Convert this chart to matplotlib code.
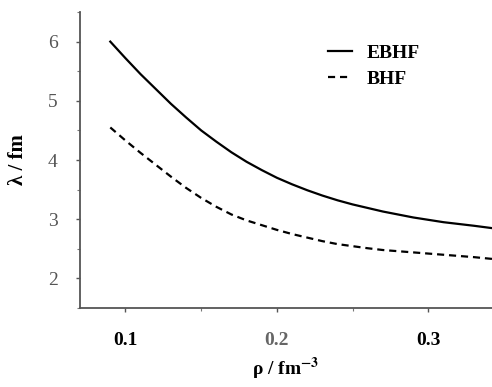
import numpy as np
import matplotlib
matplotlib.use('Agg')
import matplotlib.pyplot as plt
from matplotlib.ticker import MultipleLocator

# densities (fm^-3) and mean free path (fm)
rho = [0.09, 0.10, 0.11, 0.12, 0.13, 0.14, 0.15, 0.16, 0.17, 0.18, 0.19, 0.20,
       0.21, 0.22, 0.23, 0.24, 0.25, 0.26, 0.27, 0.28, 0.29, 0.30, 0.31, 0.32,
       0.33, 0.342]
lam_ebhf = [6.00, 5.72, 5.45, 5.20, 4.95, 4.72, 4.50, 4.31, 4.13, 3.97, 3.83, 3.70,
            3.59, 3.49, 3.40, 3.32, 3.25, 3.19, 3.13, 3.08, 3.03, 2.99, 2.95, 2.92,
            2.89, 2.85]
lam_bhf = [4.55, 4.33, 4.12, 3.92, 3.72, 3.53, 3.36, 3.21, 3.08, 2.98, 2.90, 2.82,
           2.75, 2.69, 2.63, 2.58, 2.545, 2.51, 2.48, 2.46, 2.44, 2.42, 2.40, 2.38,
           2.36, 2.33]

xticks = [0.1, 0.2, 0.3]
xticklabels = ['0.1', '0.2', '0.3']
yticks = [2, 3, 4, 5, 6]

plt.rcParams['font.family'] = ['Liberation Serif', 'DejaVu Serif']
plt.rcParams['mathtext.fontset'] = 'stix'

fig = plt.figure(figsize=(4.92, 3.87), dpi=100)
ax = fig.add_axes([0.1626, 0.204, 0.8374, 0.765])

ax.plot(rho, lam_ebhf, color='black', lw=1.6, ls='-', label='EBHF')
ax.plot(rho, lam_bhf, color='black', lw=1.6, ls=(0, (3.2, 2.2)), label='BHF')

ax.set_xlim(0.07, 0.342)
ax.set_ylim(1.5, 6.5)
ax.set_xticks(xticks)
ax.set_xticklabels(xticklabels)
ax.set_yticks(yticks)
ax.xaxis.set_minor_locator(MultipleLocator(0.05))
ax.yaxis.set_minor_locator(MultipleLocator(0.5))

for s in ['top', 'right']:
    ax.spines[s].set_visible(False)
for s in ['left', 'bottom']:
    ax.spines[s].set_color('#555555')
    ax.spines[s].set_linewidth(1.3)

ax.tick_params(which='major', length=3, width=1, color='#555555', labelsize=14)
ax.tick_params(axis='x', which='major', pad=14)
ax.tick_params(axis='y', which='major', pad=13)
ax.tick_params(which='minor', length=2, width=0.8, color='#777777')
for t in ax.get_xticklabels():
    t.set_fontweight('bold')
ax.get_xticklabels()[1].set_color('#666666')
for t in ax.get_yticklabels():
    t.set_color('#555555')

ax.set_xlabel('ρ / fm$^{\\mathbf{-3}}$', fontsize=14, fontweight='bold', labelpad=5)
ax.set_ylabel('λ / fm', fontsize=15, fontweight='bold', labelpad=14)

leg = ax.legend(loc='upper left', bbox_to_anchor=(0.56, 0.95), frameon=False,
                fontsize=14, handlelength=1.2, labelspacing=0.45, handletextpad=0.8)
for t in leg.get_texts():
    t.set_fontweight('bold')

fig.savefig('out.png', dpi=100)
